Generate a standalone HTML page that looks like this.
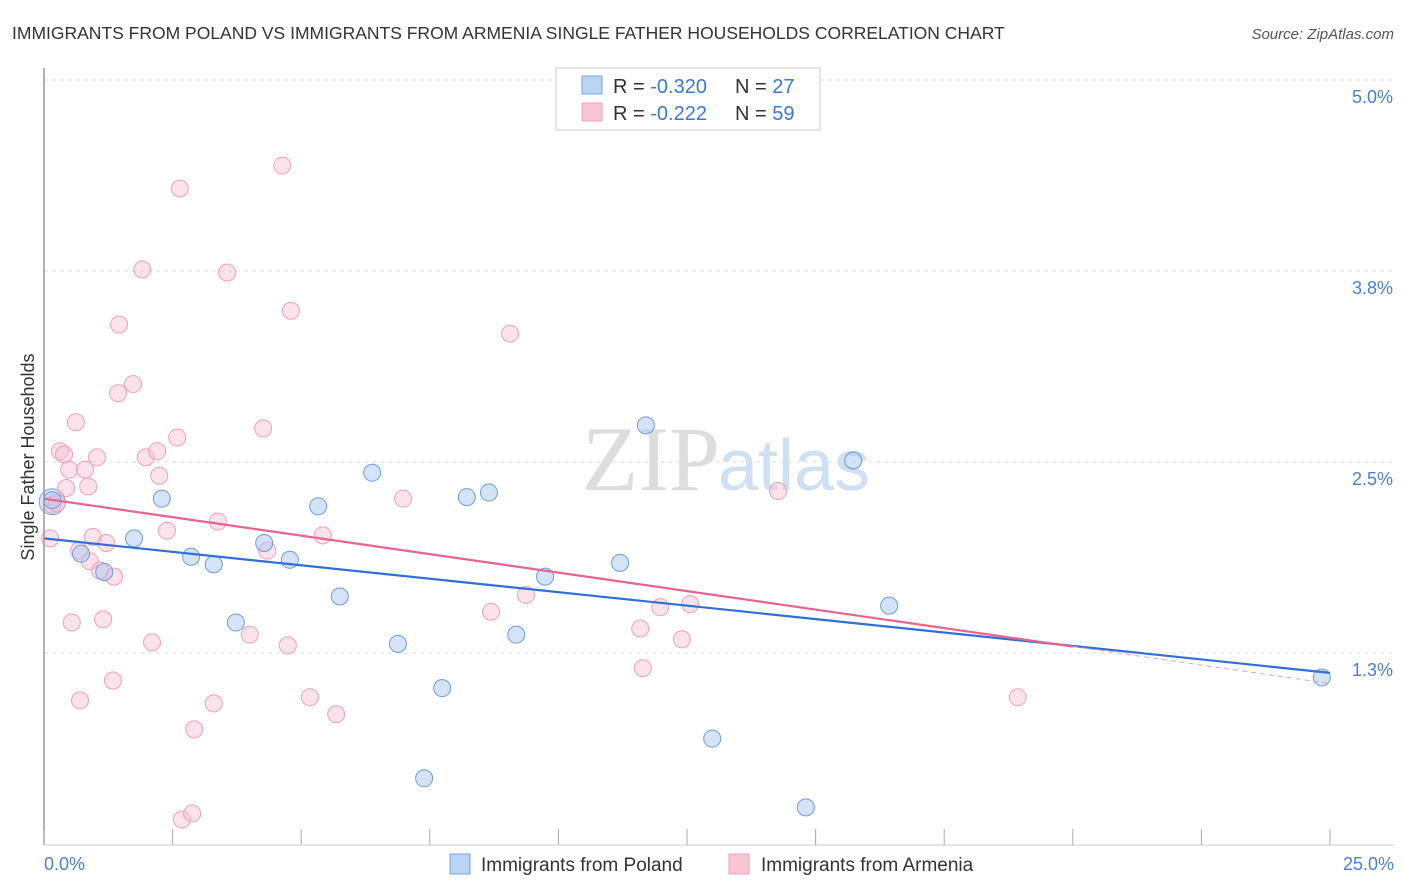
<!DOCTYPE html>
<html><head><meta charset="utf-8"><style>
body{margin:0;background:#fff;font-family:"Liberation Sans",sans-serif;}
#wrap{position:relative;width:1406px;height:892px;overflow:hidden;}
</style></head><body>
<div id="wrap">
<svg id="svg" width="1406" height="892" xmlns="http://www.w3.org/2000/svg">
<text x="12" y="39" font-size="17.5" fill="#333">IMMIGRANTS FROM POLAND VS IMMIGRANTS FROM ARMENIA SINGLE FATHER HOUSEHOLDS CORRELATION CHART</text>
<text x="1394" y="39" font-size="15" fill="#555" font-style="italic" text-anchor="end">Source: ZipAtlas.com</text>
<text x="720" y="490" font-size="92" fill="#ddd" text-anchor="end" font-family="Liberation Serif,serif">ZIP</text>
<text x="718" y="490" font-size="72" fill="#cfe0f3">atlas</text>
<text transform="translate(34,457) rotate(-90)" font-size="18" fill="#333" text-anchor="middle">Single Father Households</text>
<g id="grid"></g><g id="pts"></g><g id="lines"></g>
<line x1="44" y1="68" x2="44" y2="845" stroke="#999" stroke-width="1.5"/>
<line x1="44" y1="845" x2="1394" y2="845" stroke="#ccc" stroke-width="1"/>
<g id="ticks"></g>
<text x="44" y="870" font-size="18" fill="#4a7fd4">0.0%</text>
<text x="1394" y="870" font-size="18" fill="#4a7fd4" text-anchor="end">25.0%</text>
<g>
<rect x="556" y="68" width="264" height="62" fill="#fff" stroke="#ccc"/>
<rect x="582" y="76" width="20" height="18" fill="#bcd4f4" stroke="#7aa3e0"/>
<rect x="582" y="103" width="20" height="18" fill="#f9c6d4" stroke="#eea0b8"/>
<text x="613" y="93" font-size="20" fill="#333">R = <tspan fill="#3a78d4">-0.320</tspan><tspan x="735">N = </tspan><tspan fill="#3a78d4">27</tspan></text>
<text x="613" y="120" font-size="20" fill="#333">R = <tspan fill="#3a78d4"> -0.222</tspan><tspan x="735">N = </tspan><tspan fill="#3a78d4">59</tspan></text>
</g>
<g><rect x="450" y="854" width="20" height="20" fill="#bcd4f4" stroke="#7aa3e0"/><text x="481" y="871" font-size="19" fill="#333">Immigrants from Poland</text></g>
<g><rect x="729" y="854" width="20" height="20" fill="#f9c6d4" stroke="#eea0b8"/><text x="761" y="871" font-size="19" fill="#333">Immigrants from Armenia</text></g>
</svg>
</div>
<script>
const yTicks=[1.25,2.5,3.75,5.0];
const yTickLabels=["1.3%","2.5%","3.8%","5.0%"];
const xTicks=[0,2.5,5,7.5,10,12.5,15,17.5,20,22.5,25];
const polandX=[0.16,0.72,1.17,1.75,2.29,2.86,3.30,3.73,4.28,4.78,5.33,5.75,6.38,6.88,7.39,7.74,8.22,8.65,9.18,9.74,11.20,11.70,12.99,14.81,15.73,16.43,24.84];
const polandY=[2.25,1.90,1.78,2.00,2.26,1.88,1.83,1.45,1.97,1.86,2.21,1.62,2.43,1.31,0.43,1.02,2.27,2.30,1.37,1.75,1.84,2.74,0.69,0.24,2.51,1.56,1.09];
const armeniaX=[0.16,0.12,0.25,0.31,0.39,0.43,0.49,0.54,0.62,0.68,0.70,0.80,0.86,0.89,0.95,1.03,1.09,1.15,1.21,1.34,1.36,1.46,1.44,1.73,1.91,1.98,2.10,2.20,2.24,2.39,2.59,2.64,2.68,2.88,2.92,3.30,3.38,3.56,4.00,4.26,4.34,4.63,4.74,4.80,5.17,5.42,5.68,6.98,8.69,9.06,9.37,11.59,11.64,11.98,12.40,12.56,14.27,18.93];
const armeniaY=[2.22,2.00,2.23,2.57,2.55,2.33,2.45,1.45,2.76,1.92,0.94,2.45,2.34,1.85,2.01,2.53,1.79,1.47,1.97,1.07,1.75,3.40,2.95,3.01,3.76,2.53,1.32,2.57,2.41,2.05,2.66,4.29,0.16,0.20,0.75,0.92,2.11,3.74,1.37,2.72,1.92,4.44,1.30,3.49,0.96,2.02,0.85,2.26,1.52,3.34,1.63,1.41,1.15,1.55,1.34,1.57,2.31,0.96];
const polandTrend=[2.00,1.12];
const armeniaTrend=[2.26,1.05];
const sx=v=>44+v*(1286/25);
const sy=v=>844-v*(764/5);
const NS="http://www.w3.org/2000/svg";
function mk(t,a,p){const e=document.createElementNS(NS,t);for(const k in a)e.setAttribute(k,a[k]);p.appendChild(e);return e;}
const grid=document.getElementById('grid');
yTicks.forEach((v,i)=>{
 const l=mk('line',{x1:44,x2:1394,y1:sy(v),y2:sy(v),stroke:'#ddd','stroke-dasharray':'4,4'},grid);
 
 
 const t=mk('text',{x:1393,y:sy(v)+23,'font-size':18,fill:'#4a7fd4','text-anchor':'end'},grid);
 t.textContent=yTickLabels[i];
 
 
});
const ticks=document.getElementById('ticks');
xTicks.forEach(v=>{
 const l=mk('line',{x1:sx(v),x2:sx(v),y1:829,y2:845,stroke:'#aaa'},ticks);
 
 
});
const pts=document.getElementById('pts');
function dots(X,Y,fill,stroke,name){
 X.forEach((x,i)=>{
  const c=mk('circle',{cx:sx(x),cy:sy(Y[i]),r:8.5,fill:fill,stroke:stroke,'stroke-width':1},pts);
  
  
 });
}
const big1=mk('circle',{cx:sx(0.16),cy:sy(2.24),r:13,fill:'rgba(170,200,240,0.45)',stroke:'#7aa3e0'},pts);


dots(armeniaX,armeniaY,'rgba(248,190,208,0.45)','#eea0b8','armenia-point');
dots(polandX,polandY,'rgba(170,200,240,0.5)','#6f9be0','poland-point');
const lines=document.getElementById('lines');
const pl=mk('line',{x1:sx(0),y1:sy(polandTrend[0]),x2:sx(25),y2:sy(polandTrend[1]),stroke:'#2f6fd8','stroke-width':2.2},lines);


const aAt=v=>armeniaTrend[0]+(armeniaTrend[1]-armeniaTrend[0])*v/25;
const al=mk('line',{x1:sx(0),y1:sy(aAt(0)),x2:sx(20),y2:sy(aAt(20)),stroke:'#e8648e','stroke-width':2.2},lines);


const ad=mk('line',{x1:sx(20),y1:sy(aAt(20)),x2:sx(25),y2:sy(aAt(25)),stroke:'#e8a0b8','stroke-width':1,'stroke-dasharray':'5,4'},lines);


</script>
</body></html>
